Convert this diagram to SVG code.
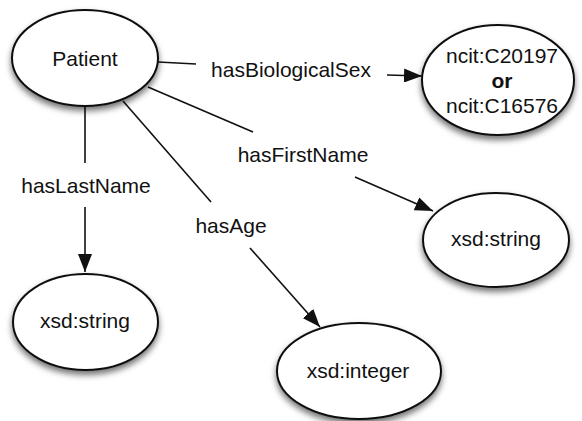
<svg xmlns="http://www.w3.org/2000/svg" width="582" height="421" viewBox="0 0 582 421">
<style>
.node ellipse{fill:#fff;stroke:#111;stroke-width:2;filter:url(#sh)}
text{font-family:"Liberation Sans",Arial,Helvetica,sans-serif;font-size:21px;fill:#111;text-anchor:middle}
.edges line{stroke:#111;stroke-width:1.6;fill:none}
.arr{marker-end:url(#ah)}
</style>
<defs>
<filter id="sh" x="-20%" y="-20%" width="140%" height="150%">
<feDropShadow dx="0" dy="4" stdDeviation="3" flood-color="#000" flood-opacity="0.55"/>
</filter>
<marker id="ah" markerUnits="userSpaceOnUse" markerWidth="19" markerHeight="14" refX="18" refY="7" orient="auto">
<path d="M0,0 L18,7 L0,14 z" fill="#111"/>
</marker>
</defs>
<g class="edges" id="connectors">
<line x1="158" y1="62" x2="196" y2="64"/>
<line class="arr" x1="387" y1="75" x2="422" y2="76"/>
<text x="291" y="77">hasBiologicalSex</text>
<line x1="148" y1="87" x2="253" y2="132"/>
<line class="arr" x1="355" y1="177" x2="433" y2="211"/>
<text x="303" y="162">hasFirstName</text>
<line x1="85" y1="107" x2="85" y2="163"/>
<line class="arr" x1="85" y1="207" x2="85" y2="272"/>
<text x="86" y="193">hasLastName</text>
<line x1="123" y1="101" x2="211" y2="202"/>
<line class="arr" x1="250" y1="248" x2="320" y2="327"/>
<text x="231" y="233">hasAge</text>
</g>
<g class="node" id="patient">
<ellipse cx="85" cy="58" rx="73" ry="48"/>
<text x="85" y="66">Patient</text>
</g>
<g class="node" id="sex">
<ellipse cx="498" cy="80" rx="76" ry="55"/>
<text x="502" y="63">ncit:C20197</text>
<text x="502" y="88" font-weight="bold">or</text>
<text x="502" y="113">ncit:C16576</text>
</g>
<g class="node" id="firstname">
<ellipse cx="496" cy="240" rx="73" ry="47"/>
<text x="496" y="246">xsd:string</text>
</g>
<g class="node" id="lastname">
<ellipse cx="85.5" cy="322" rx="72.5" ry="48"/>
<text x="85" y="328">xsd:string</text>
</g>
<g class="node" id="age">
<ellipse cx="359" cy="371" rx="82" ry="48"/>
<text x="358" y="378">xsd:integer</text>
</g>
</svg>
